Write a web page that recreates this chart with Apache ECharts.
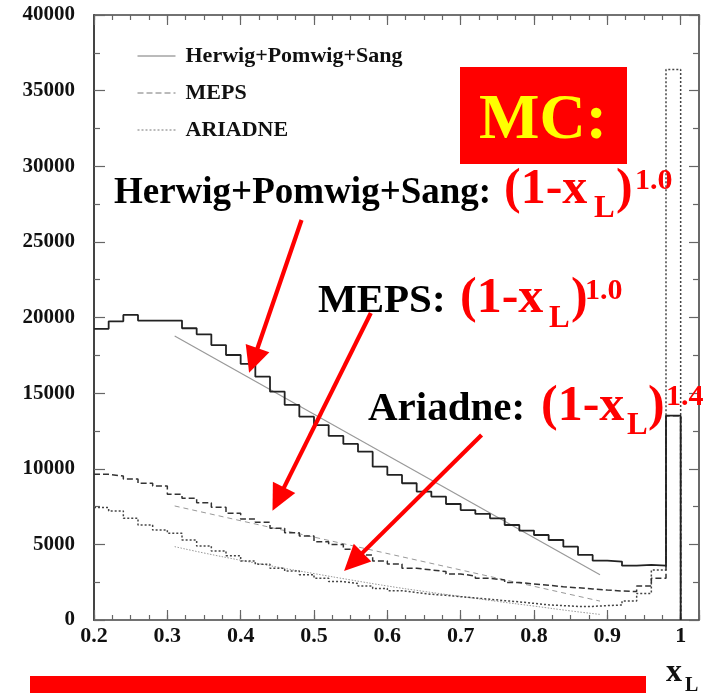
<!DOCTYPE html>
<html>
<head>
<meta charset="utf-8">
<script src="https://cdn.jsdelivr.net/npm/echarts@6/dist/echarts.min.js"></script>
<style>
  html, body { margin: 0; padding: 0; background: #fff; }
  #chart { width: 722px; height: 693px; }
</style>
</head>
<body>
<div id="chart"></div>
<script>
// Bin edges of the x_L histograms (bin width 0.02)
const binEdges = [0.20, 0.22, 0.24, 0.26, 0.28, 0.30, 0.32, 0.34, 0.36, 0.38,
                  0.40, 0.42, 0.44, 0.46, 0.48, 0.50, 0.52, 0.54, 0.56, 0.58,
                  0.60, 0.62, 0.64, 0.66, 0.68, 0.70, 0.72, 0.74, 0.76, 0.78,
                  0.80, 0.82, 0.84, 0.86, 0.88, 0.90, 0.92, 0.94, 0.96, 0.98, 1.00];

// Bin contents, one value per bin
const herwig = [19250, 19750, 20170, 19800, 19800, 19800, 19290, 18890, 18180, 17520,
                16930, 16090, 15100, 14220, 13440, 12890, 12170, 11640, 11130, 10140,
                9590, 9040, 8490, 8160, 7670, 7270, 7010, 6720, 6280, 5910,
                5620, 5290, 4850, 4300, 3920, 3860, 3590, 3650, 3600, 13510];
const meps = [9630, 9520, 9320, 9040, 8860, 8310, 8050, 7760, 7450, 7050,
              6680, 6460, 6060, 5770, 5550, 5180, 5000, 4670, 4300, 3900,
              3700, 3420, 3310, 3200, 3040, 2910, 2760, 2640, 2480, 2380,
              2300, 2200, 2130, 2050, 1980, 1920, 1880, 2250, 2760, 13510];
const ariadne = [7430, 7210, 6720, 6280, 5950, 5730, 5290, 4890, 4560, 4250,
                 3900, 3680, 3420, 3240, 3000, 2760, 2540, 2420, 2250, 2090,
                 1940, 1810, 1700, 1630, 1540, 1460, 1370, 1280, 1200, 1100,
                 1000, 950, 900, 900, 950, 990, 1260, 1760, 3310, 36400];

// Fitted (1-x_L)^n curves over 0.31 < x_L < 0.89
const herwigFit = [[0.31, 18780], [0.89, 2990]];
const mepsFit = [[0.31, 7540], [0.89, 1250]];
const ariadneFit = [[0.31, 4850], [0.35, 4430], [0.40, 3950], [0.45, 3500], [0.50, 3070],
                    [0.55, 2650], [0.60, 2250], [0.65, 1890], [0.70, 1560], [0.75, 1230],
                    [0.80, 920], [0.85, 600], [0.89, 370]];

// Axis ticks
const xRange = [0.2, 1.025];
const xMajorStep = 0.1;
const xMinorStep = 0.025;
const yRange = [0, 40000];
const yMajorStep = 5000;

const seriesNames = ['Herwig+Pomwig+Sang', 'MEPS', 'ARIADNE'];

const SERIF = 'Liberation Serif';

// Histogram outline as step points: left edge of each bin, then close at the last edge and drop to zero
function histPoints(values) {
  const pts = values.map((v, i) => [binEdges[i], v]);
  const last = binEdges[binEdges.length - 1];
  pts.push([last, values[values.length - 1]]);
  pts.push([last, 0]);
  return pts;
}

function xLabel(v) {
  if (v > 1.0001) return '';
  return String(Math.round(v * 10) / 10);
}

const chart = echarts.init(document.getElementById('chart'), null, { renderer: 'canvas' });

const gridBox = { left: 94, top: 15, right: 23, bottom: 73 };

function xAxisDef(position, step, tickLen, showLine, showLabel) {
  return {
    type: 'value', position: position, min: xRange[0], max: xRange[1], interval: step,
    axisLine: { show: showLine, lineStyle: { color: '#444', width: 1.6 } },
    axisTick: { show: true, inside: true, length: tickLen, lineStyle: { color: '#666', width: 1.2 } },
    axisLabel: showLabel ? {
      show: true, margin: 5, formatter: xLabel,
      fontFamily: SERIF, fontWeight: 'bold', fontSize: 22, color: '#111'
    } : { show: false },
    splitLine: { show: false }
  };
}

function yAxisDef(position, majorLen, minorLen, showLabel) {
  return {
    type: 'value', position: position, min: yRange[0], max: yRange[1], interval: yMajorStep,
    axisLine: { show: true, lineStyle: { color: '#444', width: position === 'left' ? 2 : 1.6 } },
    axisTick: { show: true, inside: true, length: majorLen, lineStyle: { color: '#666', width: 1.2 } },
    minorTick: { show: true, splitNumber: 2, length: minorLen, lineStyle: { color: '#666', width: 1.2 } },
    axisLabel: showLabel ? {
      show: true, margin: 19, formatter: v => String(v),
      fontFamily: SERIF, fontWeight: 'bold', fontSize: 21, color: '#111'
    } : { show: false },
    splitLine: { show: false },
    minorSplitLine: { show: false }
  };
}

const option = {
  animation: false,
  backgroundColor: '#ffffff',
  grid: gridBox,
  xAxis: [
    xAxisDef('bottom', xMajorStep, 10, true, true),
    xAxisDef('bottom', xMinorStep, 5, false, false),
    xAxisDef('top', xMajorStep, 10, true, false),
    xAxisDef('top', xMinorStep, 5, false, false)
  ],
  yAxis: [
    yAxisDef('left', 11, 6, true),
    yAxisDef('right', 10, 6, false)
  ],
  legend: {
    data: seriesNames,
    orient: 'vertical', left: 132, top: 40,
    itemWidth: 38, itemHeight: 14, itemGap: 15,
    selectedMode: false,
    itemStyle: { opacity: 0 },
    lineStyle: { width: 1, color: '#777', opacity: 1 },
    textStyle: { fontFamily: SERIF, fontWeight: 'bold', fontSize: 22, color: '#111', padding: [0, 0, 0, 5] }
  },
  series: [
    {
      name: 'ARIADNE', type: 'line', step: 'end', data: histPoints(ariadne),
      symbol: 'none', lineStyle: { color: '#444', width: 1.5, type: [2, 2] }, z: 3
    },
    {
      name: 'MEPS', type: 'line', step: 'end', data: histPoints(meps),
      symbol: 'none', lineStyle: { color: '#333', width: 1.5, type: [6, 3] }, z: 3
    },
    {
      name: 'ARIADNE fit', type: 'line', data: ariadneFit, smooth: true,
      symbol: 'none', lineStyle: { color: '#999', width: 1, type: [1.5, 1.5] }, z: 2
    },
    {
      name: 'MEPS fit', type: 'line', data: mepsFit,
      symbol: 'none', lineStyle: { color: '#999', width: 1, type: [5, 4] }, z: 2
    },
    {
      name: 'Herwig fit', type: 'line', data: herwigFit,
      symbol: 'none', lineStyle: { color: '#999', width: 1.2 }, z: 2
    },
    {
      name: 'Herwig+Pomwig+Sang', type: 'line', step: 'end', data: histPoints(herwig),
      symbol: 'none', lineStyle: { color: '#222', width: 1.8 }, z: 4
    }
  ]
};

chart.setOption(option);

// Annotation arrows, given in axis units (tail -> head)
const arrows = [
  { from: [0.483, 26450], to: [0.4115, 16350] },
  { from: [0.5775, 20300], to: [0.4434, 7230] },
  { from: [0.7285, 12230], to: [0.541, 3240] }
];

const RED = '#ff0000';
const graphics = [];

arrows.forEach(a => {
  const p0 = chart.convertToPixel({ xAxisIndex: 0, yAxisIndex: 0 }, a.from);
  const p1 = chart.convertToPixel({ xAxisIndex: 0, yAxisIndex: 0 }, a.to);
  const dx = p1[0] - p0[0], dy = p1[1] - p0[1];
  const len = Math.sqrt(dx * dx + dy * dy);
  const ux = dx / len, uy = dy / len;
  const headLen = 26, headHalf = 12.5;
  const bx = p1[0] - ux * headLen, by = p1[1] - uy * headLen;
  graphics.push({
    type: 'line', z: 50,
    shape: { x1: p0[0], y1: p0[1], x2: bx + ux * 2, y2: by + uy * 2 },
    style: { stroke: RED, lineWidth: 4.2 }
  });
  graphics.push({
    type: 'polygon', z: 50,
    shape: { points: [[p1[0], p1[1]], [bx - uy * headHalf, by + ux * headHalf], [bx + uy * headHalf, by - ux * headHalf]] },
    style: { fill: RED }
  });
});

// Text placed by baseline; canvas 'middle' sits about 0.3 em above the baseline
function txt(str, x, base, size, color) {
  graphics.push({
    type: 'text', z: 60, x: x, y: base - 0.3 * size,
    style: {
      text: str, fill: color, font: 'bold ' + size + 'px "' + SERIF + '"',
      textAlign: 'left', textVerticalAlign: 'middle', verticalAlign: 'middle'
    }
  });
}

// "MC:" box
graphics.push({
  type: 'rect', z: 40,
  shape: { x: 460, y: 67, width: 167, height: 97 },
  style: { fill: RED }
});
graphics.push({
  type: 'text', z: 60, x: 543, y: 141 - 0.3 * 64,
  style: {
    text: 'MC:', fill: '#ffff00', font: 'bold 64px "' + SERIF + '"',
    textAlign: 'center', textVerticalAlign: 'middle', verticalAlign: 'middle'
  }
});

// Model labels with fitted power laws
txt('Herwig+Pomwig+Sang:', 114, 205, 37, '#000');
txt('(1-x', 504, 205, 50, RED);
txt('L', 594, 218, 31, RED);
txt(')', 616, 205, 50, RED);
txt('1.0', 635, 190, 30, RED);

txt('MEPS:', 318, 314, 41, '#000');
txt('(1-x', 460, 314, 50, RED);
txt('L', 549, 328, 31, RED);
txt(')', 571, 314, 50, RED);
txt('1.0', 585, 300, 30, RED);

txt('Ariadne:', 368, 422, 41, '#000');
txt('(1-x', 541, 422, 50, RED);
txt('L', 627, 435, 31, RED);
txt(')', 648, 422, 50, RED);
txt('1.4', 666, 406, 30, RED);

// x-axis title
txt('x', 666, 682, 32, '#111');
txt('L', 685, 692, 20, '#111');

// red bar under the axis
graphics.push({
  type: 'rect', z: 40,
  shape: { x: 30, y: 676, width: 616, height: 17 },
  style: { fill: RED }
});

chart.setOption({ graphic: graphics });
</script>
</body>
</html>
